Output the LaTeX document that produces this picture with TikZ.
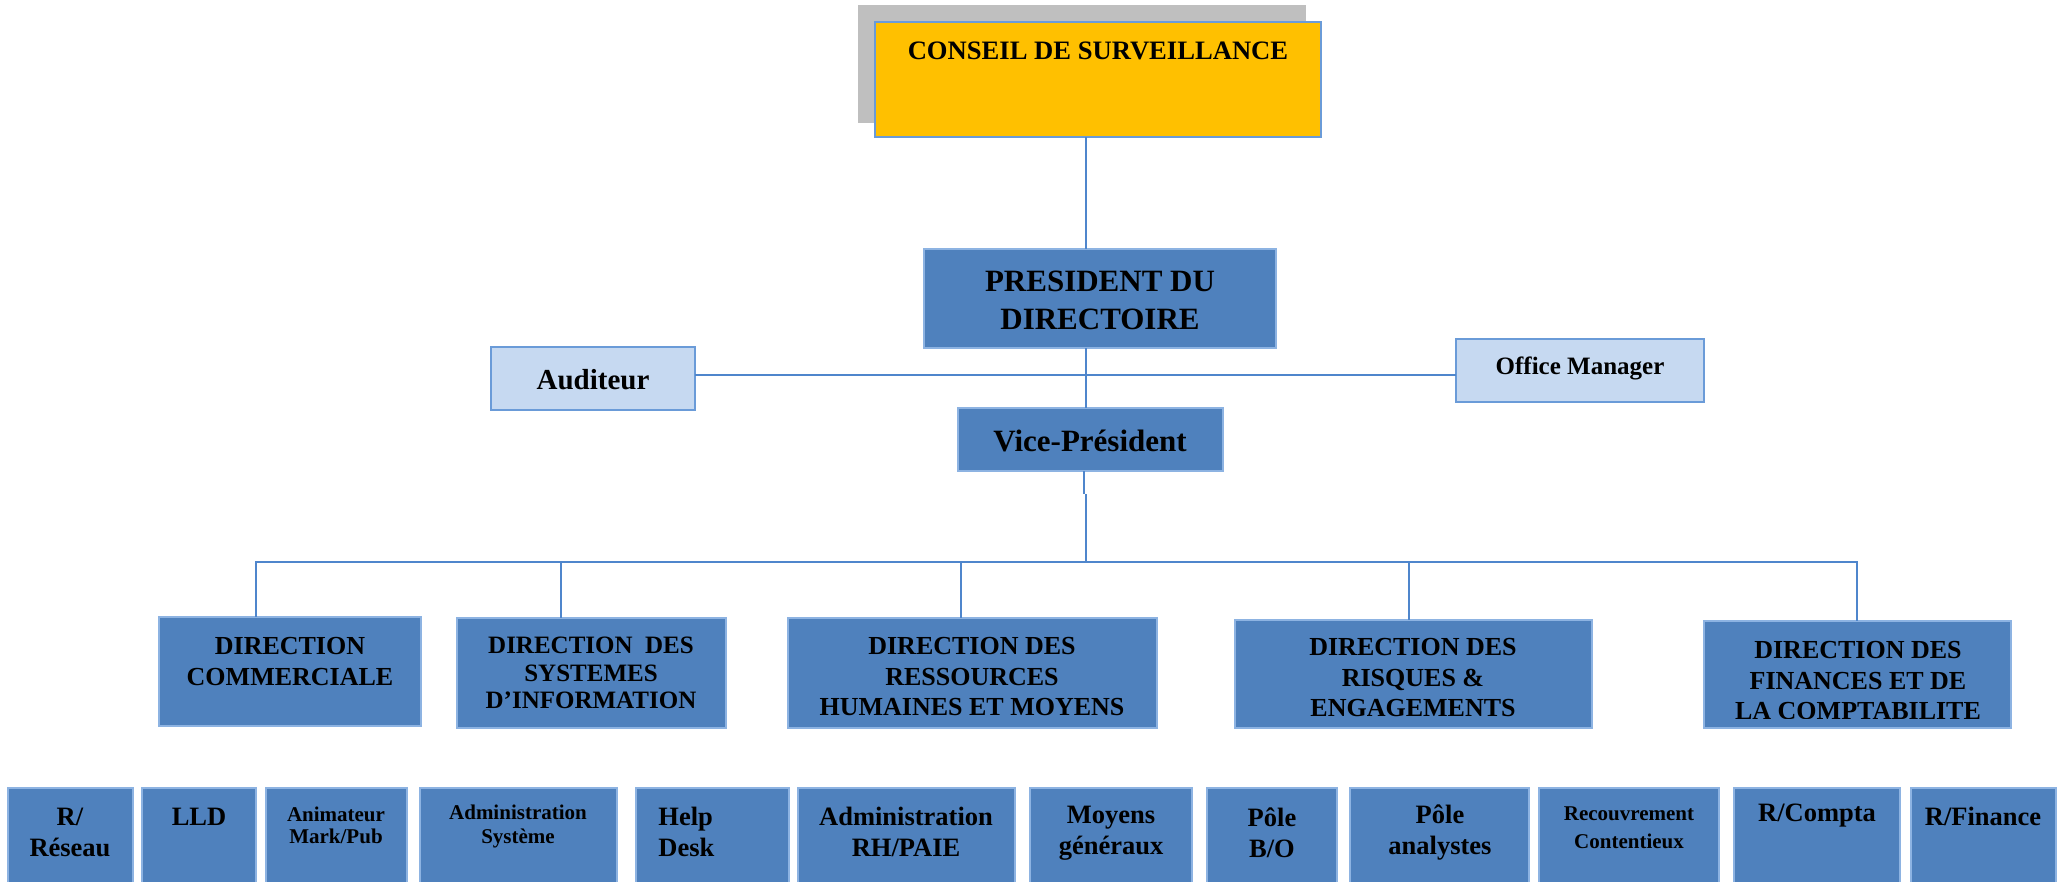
\documentclass[tikz,border=0pt]{standalone}
\usepackage{fontspec}
\setmainfont{Liberation Serif}
\definecolor{boxblue}{HTML}{4F81BD}
\definecolor{boxedge}{HTML}{8DB3E2}
\definecolor{lightfill}{HTML}{C6D9F1}
\definecolor{lightedge}{HTML}{6A9BD8}
\definecolor{lineblue}{HTML}{4F86CC}
\definecolor{gold}{HTML}{FFC000}
\definecolor{shadowgray}{HTML}{BFBFBF}
\tikzset{
  basebox/.style={anchor=north west, inner sep=0pt, outer sep=0pt, line width=1pt},
  dbox/.style={basebox, draw=boxedge, fill=boxblue},
  lbox/.style={basebox, draw=lightedge, fill=lightfill},
  gbox/.style={basebox, draw=lightedge, fill=gold},
  sbox/.style={basebox, fill=shadowgray},
  conn/.style={draw=lineblue, line width=1pt},
  txt/.style={align=center, inner sep=0pt, text=black, font=\bfseries},
  ltxt/.style={align=left, inner sep=0pt, text=black, font=\bfseries},
}
\newcommand\orgbox[6]{\node[#1, minimum width={(#4-#2)*0.5pt}, minimum height={(#5-#3)*0.5pt}] (#6) at (#2,#3) {};}
\newcommand\fs[2]{\fontsize{#1}{#2}\selectfont\bfseries}
\begin{document}
\begin{tikzpicture}[x=0.5pt,y=-0.5pt]
\useasboundingbox (0,0) rectangle (2063,882);
\coordinate (spine) at (1086,0);
\coordinate (spineb) at (1084,0);
\coordinate (jog) at (0,494);
\coordinate (hl) at (0,375);
\coordinate (bar) at (0,562);
% top boxes
\orgbox{sbox}{858}{5}{1306}{123}{shadow}
\orgbox{gbox}{875}{22}{1321}{137}{cons}
\orgbox{dbox}{924}{249}{1276}{348}{pres}
\orgbox{lbox}{491}{347}{695}{410}{aud}
\orgbox{lbox}{1456}{339}{1704}{402}{om}
\orgbox{dbox}{958}{408}{1223}{471}{vp}
% directions
\orgbox{dbox}{159}{617}{421}{726}{dcom}
\orgbox{dbox}{457}{618}{726}{728}{dsi}
\orgbox{dbox}{788}{618}{1157}{728}{drh}
\orgbox{dbox}{1235}{620}{1592}{728}{dris}
\orgbox{dbox}{1704}{621}{2011}{728}{dfin}
% bottom row
\orgbox{dbox}{8}{788}{133}{895}{b1}
\orgbox{dbox}{142}{788}{256}{895}{b2}
\orgbox{dbox}{266}{788}{407}{895}{b3}
\orgbox{dbox}{420}{788}{617}{895}{b4}
\orgbox{dbox}{636}{788}{789}{895}{b5}
\orgbox{dbox}{798}{788}{1015}{895}{b6}
\orgbox{dbox}{1030}{788}{1192}{895}{b7}
\orgbox{dbox}{1207}{788}{1337}{895}{b8}
\orgbox{dbox}{1350}{788}{1529}{895}{b9}
\orgbox{dbox}{1539}{788}{1719}{895}{b10}
\orgbox{dbox}{1734}{788}{1900}{895}{b11}
\orgbox{dbox}{1911}{788}{2056}{895}{b12}
% connectors
\draw[conn] (spine |- cons.south) -- (spine |- pres.north);
\draw[conn] (spine |- pres.south) -- (spine |- vp.north);
\draw[conn] (aud.east |- hl) -- (om.west |- hl);
\draw[conn] (spineb |- vp.south) -- (spineb |- jog);
\draw[conn] (spine |- jog) -- (spine |- bar);
\draw[conn] (dcom.north -| 256,0) -- (256,562) -- (1857,562) -- (dfin.north -| 1857,0);
\draw[conn] (561,562) -- (dsi.north -| 561,0);
\draw[conn] (961,562) -- (drh.north -| 961,0);
\draw[conn] (1409,562) -- (dris.north -| 1409,0);
% texts
\node[txt, font=\fs{13.3}{16}] at (1098,51) {CONSEIL DE SURVEILLANCE};
\node[txt, font=\fs{15.5}{19}] at (1100,300) {PRESIDENT DU\\DIRECTOIRE};
\node[txt, font=\fs{14.5}{17}] at (593,380) {Auditeur};
\node[txt, font=\fs{12.5}{15}] at (1580,368) {Office Manager};
\node[txt, font=\fs{15.5}{18}] at (1090,441) {Vice-Président};
\node[txt, font=\fs{13}{15.5}] at (290,662) {DIRECTION\\COMMERCIALE};
\node[txt, font=\fs{12.5}{13.75}] at (591,673) {DIRECTION\ \ DES\\SYSTEMES\\D’INFORMATION};
\node[txt, font=\fs{13}{15.25}] at (972,677) {DIRECTION DES\\RESSOURCES\\HUMAINES ET MOYENS};
\node[txt, font=\fs{13}{15.25}] at (1413,678) {DIRECTION DES\\RISQUES \&\\ENGAGEMENTS};
\begin{scope}
\clip (1705,622) rectangle (2010,718);
\node[txt, font=\fs{13}{15.25}] at (1858,681) {DIRECTION DES\\FINANCES ET DE\\LA COMPTABILITE};
\end{scope}
\node[txt, font=\fs{13.25}{15.5}] at (70,832) {R/\\Réseau};
\node[txt, font=\fs{13.25}{15.5}] at (199,817) {LLD};
\node[txt, font=\fs{10.5}{11}] at (336,825) {Animateur\\Mark/Pub};
\node[txt, font=\fs{10.5}{12}] at (518,826) {Administration\\Système};
\node[ltxt, font=\fs{13.25}{15.5}, anchor=west] at (658,832) {Help\\Desk};
\node[txt, font=\fs{13.25}{15.5}] at (906,832) {Administration\\RH/PAIE};
\node[txt, font=\fs{13.25}{15.5}] at (1111,833) {Moyens\\généraux};
\node[txt, font=\fs{13.25}{15.5}] at (1272,833) {Pôle\\B/O};
\node[txt, font=\fs{13.25}{15.5}] at (1440,833) {Pôle\\analystes};
\node[txt, font=\fs{10.5}{14}] at (1629,828) {Recouvrement\\Contentieux};
\node[txt, font=\fs{13.25}{15.5}] at (1817,816) {R/Compta};
\node[txt, font=\fs{13.25}{15.5}] at (1983,816) {R/Finance};
\end{tikzpicture}
\end{document}
